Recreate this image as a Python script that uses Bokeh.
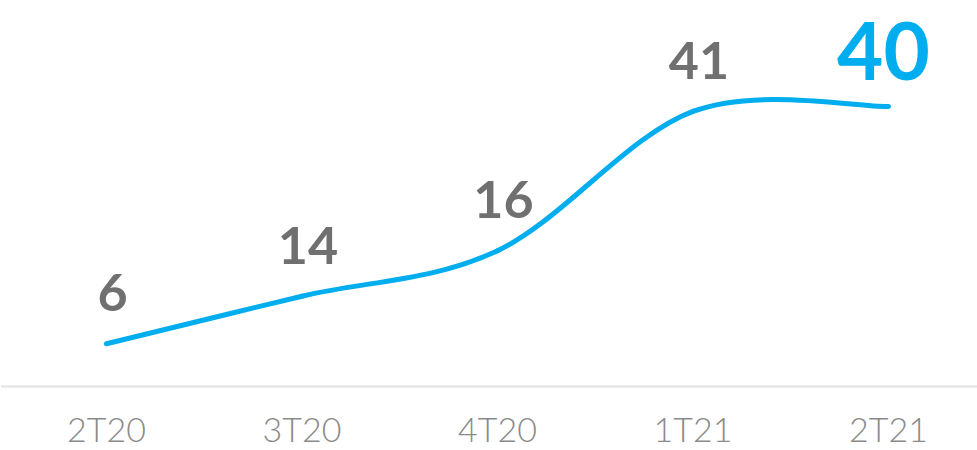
from bokeh.plotting import figure
from bokeh.models import ColumnDataSource, Range1d, Span
from bokeh.core.properties import value
from bokeh.embed import file_html
from bokeh.resources import INLINE

# ---- data ----
categories = ["2T20", "3T20", "4T20", "1T21", "2T21"]
labels = [6, 14, 16, 41, 40]
# heights at which the drawn curve passes each quarter (same units as labels)
curve_values = [6.1, 12.9, 19.4, 39.3, 40.0]

BLUE = "#00AEEF"
GREY = "#707070"
TICK_GREY = "#8a8a8a"

xs = list(range(len(categories)))

# smooth curve: Catmull-Rom spline through the points, expressed as Bezier segments
seg = dict(x0=[], y0=[], x1=[], y1=[], cx0=[], cy0=[], cx1=[], cy1=[])
n = len(xs)
for i in range(n - 1):
    a = i - 1 if i > 0 else i
    b = i + 2 if i + 2 < n else i + 1
    seg["x0"].append(xs[i]); seg["y0"].append(curve_values[i])
    seg["x1"].append(xs[i + 1]); seg["y1"].append(curve_values[i + 1])
    seg["cx0"].append(xs[i] + (xs[i + 1] - xs[a]) / 6)
    seg["cy0"].append(curve_values[i] + (curve_values[i + 1] - curve_values[a]) / 6)
    seg["cx1"].append(xs[i + 1] - (xs[b] - xs[i]) / 6)
    seg["cy1"].append(curve_values[i + 1] - (curve_values[b] - curve_values[i]) / 6)

p = figure(width=977, height=450, output_backend="svg", toolbar_location=None,
           x_axis_type=None, y_axis_type=None,
           x_range=Range1d(-0.5422, 4.4552), y_range=Range1d(-9.143, 55.143),
           min_border=0, outline_line_color=None)
p.xgrid.visible = False
p.ygrid.visible = False
p.background_fill_color = "white"
p.border_fill_color = "white"

# baseline
p.add_layout(Span(location=0, dimension="width", line_color="#e2e2e2", line_width=2))

p.bezier(x0="x0", y0="y0", x1="x1", y1="y1", cx0="cx0", cy0="cy0", cx1="cx1", cy1="cy1",
         source=ColumnDataSource(seg), line_color=BLUE, line_width=5, line_cap="round")

grey_src = ColumnDataSource(dict(x=xs[:-1], y=curve_values[:-1], t=[str(v) for v in labels[:-1]]))
last_src = ColumnDataSource(dict(x=xs[-1:], y=curve_values[-1:], t=[str(v) for v in labels[-1:]]))

p.text(x="x", y="y", text="t", source=grey_src, text_font=value("Lato"), text_font_style="bold",
       text_font_size="52px", text_color=GREY, text_align="center", text_baseline="alphabetic",
       x_offset=6, y_offset=-51)
p.text(x="x", y="y", text="t", source=last_src, text_font=value("Lato"), text_font_style="bold",
       text_font_size="80px", text_color=BLUE, text_align="center", text_baseline="alphabetic",
       x_offset=-5, y_offset=-56)

# category labels under the baseline
tick_src = ColumnDataSource(dict(x=xs, y=[0] * n, t=categories))
p.text(x="x", y="y", text="t", source=tick_src, text_font=value("Lato Light"),
       text_font_size="34px", text_color=TICK_GREY, text_align="center",
       text_baseline="alphabetic", y_offset=42)

open("out.html", "w").write(file_html(p, INLINE))
